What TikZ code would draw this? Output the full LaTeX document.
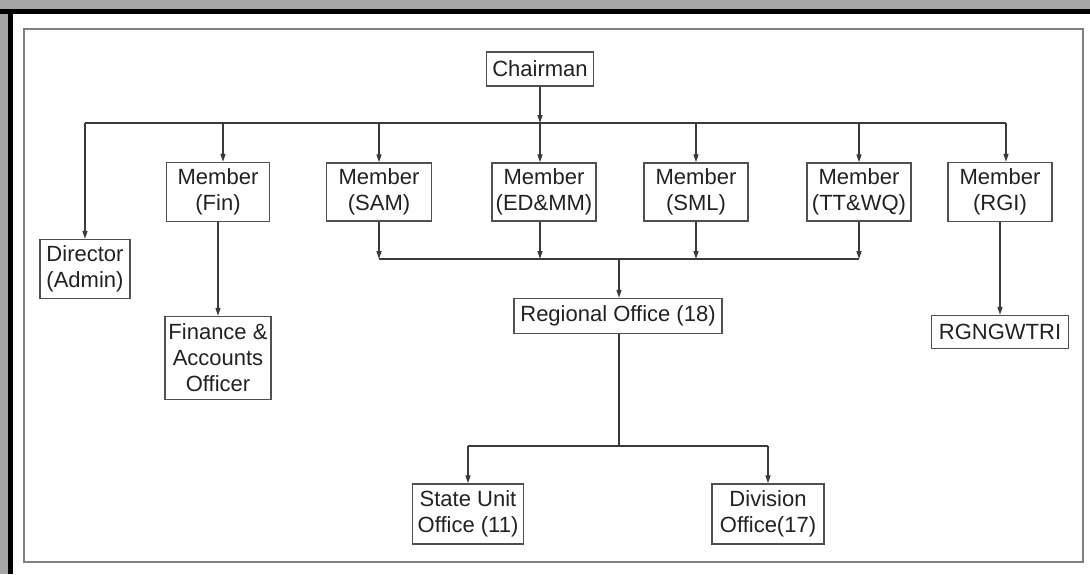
\documentclass[tikz,border=0pt]{standalone}
\usepackage{fontspec}
\setmainfont{Liberation Sans}
\usetikzlibrary{arrows.meta,positioning,calc}

\definecolor{framegray}{HTML}{A6A6A6}
\definecolor{boxgray}{HTML}{505050}
\definecolor{linegray}{HTML}{3A3A3A}
\definecolor{textblack}{HTML}{222222}

\begin{document}
\begin{tikzpicture}[
    x=1pt, y=-1pt,
    font=\fontsize{22}{26}\selectfont,
    orgbox/.style={draw=boxgray, fill=white, text=textblack, align=center, inner sep=0pt, line width=1.4pt},
    link/.style={draw=linegray, line width=1.3pt},
    arrow/.style={link, -{Triangle[length=8pt, width=5pt]}}
]

    % --- Cadre ---
    \useasboundingbox (0,0) rectangle (1090,574);
    \fill[framegray] (0,0) rectangle (1090,574);
    \fill[black] (0,9) rectangle (1090,14);
    \fill[black] (8,9) rectangle (13,574);
    \fill[white] (13,14) rectangle (1090,574);
    \draw[gray, line width=1.5pt] (24,29) rectangle (1083,562);

    % --- Niveau 1 : Chairman ---
    \node[orgbox, minimum width=107pt, minimum height=34pt] (chair) at (540, 69) {Chairman};

    % --- Niveau 2 : Members & Director ---
    \node[orgbox, minimum width=90pt, minimum height=59pt] (dir) at (85, 269) {Director\\(Admin)};
    \node[orgbox, minimum width=103pt, minimum height=59pt] (fin) at (218, 192) {Member\\(Fin)};
    \node[orgbox, minimum width=105pt, minimum height=58pt] (sam) at (379, 192) {Member\\(SAM)};
    \node[orgbox, minimum width=104pt, minimum height=58pt] (edmm) at (544, 192) {Member\\(ED\&MM)};
    \node[orgbox, minimum width=104pt, minimum height=58pt] (sml) at (696, 192) {Member\\(SML)};
    \node[orgbox, minimum width=104pt, minimum height=58pt] (ttwq) at (859, 192) {Member\\(TT\&WQ)};
    \node[orgbox, minimum width=104pt, minimum height=59pt] (rgi) at (1000, 192) {Member\\(RGI)};

    % --- Niveau 3 : Offices ---
    \node[orgbox, minimum width=106pt, minimum height=83pt] (fao) at (218, 358) {Finance \&\\Accounts\\Officer};
    \node[orgbox, minimum width=208pt, minimum height=35pt] (ro) at (618, 316) {Regional Office (18)};
    \node[orgbox, minimum width=137pt, minimum height=33pt] (rgn) at (1000, 332) {RGNGWTRI};

    % --- Niveau 4 : State Unit & Division ---
    \node[orgbox, minimum width=111pt, minimum height=60pt] (suo) at (468, 514) {State Unit\\Office (11)};
    \node[orgbox, minimum width=112pt, minimum height=60pt] (div) at (768, 514) {Division\\Office(17)};

    % --- Bus ---
    \coordinate (bus1) at (540, 123);
    \coordinate (bus2) at (619, 259);
    \coordinate (bus3) at (619, 446);

    % --- Liaisons ---
    \draw[arrow] (chair.south) -- (bus1);
    \draw[link] (dir.north |- bus1) -- ([xshift=6pt]rgi.north |- bus1);

    \draw[arrow] (dir.north |- bus1) -- (dir.north);
    \draw[arrow] ([xshift=5pt]fin.north |- bus1) -- ([xshift=5pt]fin.north);
    \draw[arrow] (sam.north |- bus1) -- (sam.north);
    \draw[arrow] (bus1) -- (edmm.north -| bus1);
    \draw[arrow] (sml.north |- bus1) -- (sml.north);
    \draw[arrow] (ttwq.north |- bus1) -- (ttwq.north);
    \draw[arrow] ([xshift=6pt]rgi.north |- bus1) -- ([xshift=6pt]rgi.north);

    \draw[arrow] (fin.south) -- (fao.north);
    \draw[arrow] (rgi.south) -- (rgn.north);

    \draw[link] (sam.south |- bus2) -- (ttwq.south |- bus2);
    \draw[arrow] (sam.south) -- (sam.south |- bus2);
    \draw[arrow] (edmm.south -| bus1) -- (bus1 |- bus2);
    \draw[arrow] (sml.south) -- (sml.south |- bus2);
    \draw[arrow] (ttwq.south) -- (ttwq.south |- bus2);
    \draw[arrow] (bus2) -- (ro.north -| bus2);

    \draw[link] (ro.south -| bus3) -- (bus3);
    \draw[link] (suo.south |- bus3) -- (div.south |- bus3);
    \draw[arrow] (suo.south |- bus3) -- (suo.north);
    \draw[arrow] (div.south |- bus3) -- (div.north);

\end{tikzpicture}
\end{document}
